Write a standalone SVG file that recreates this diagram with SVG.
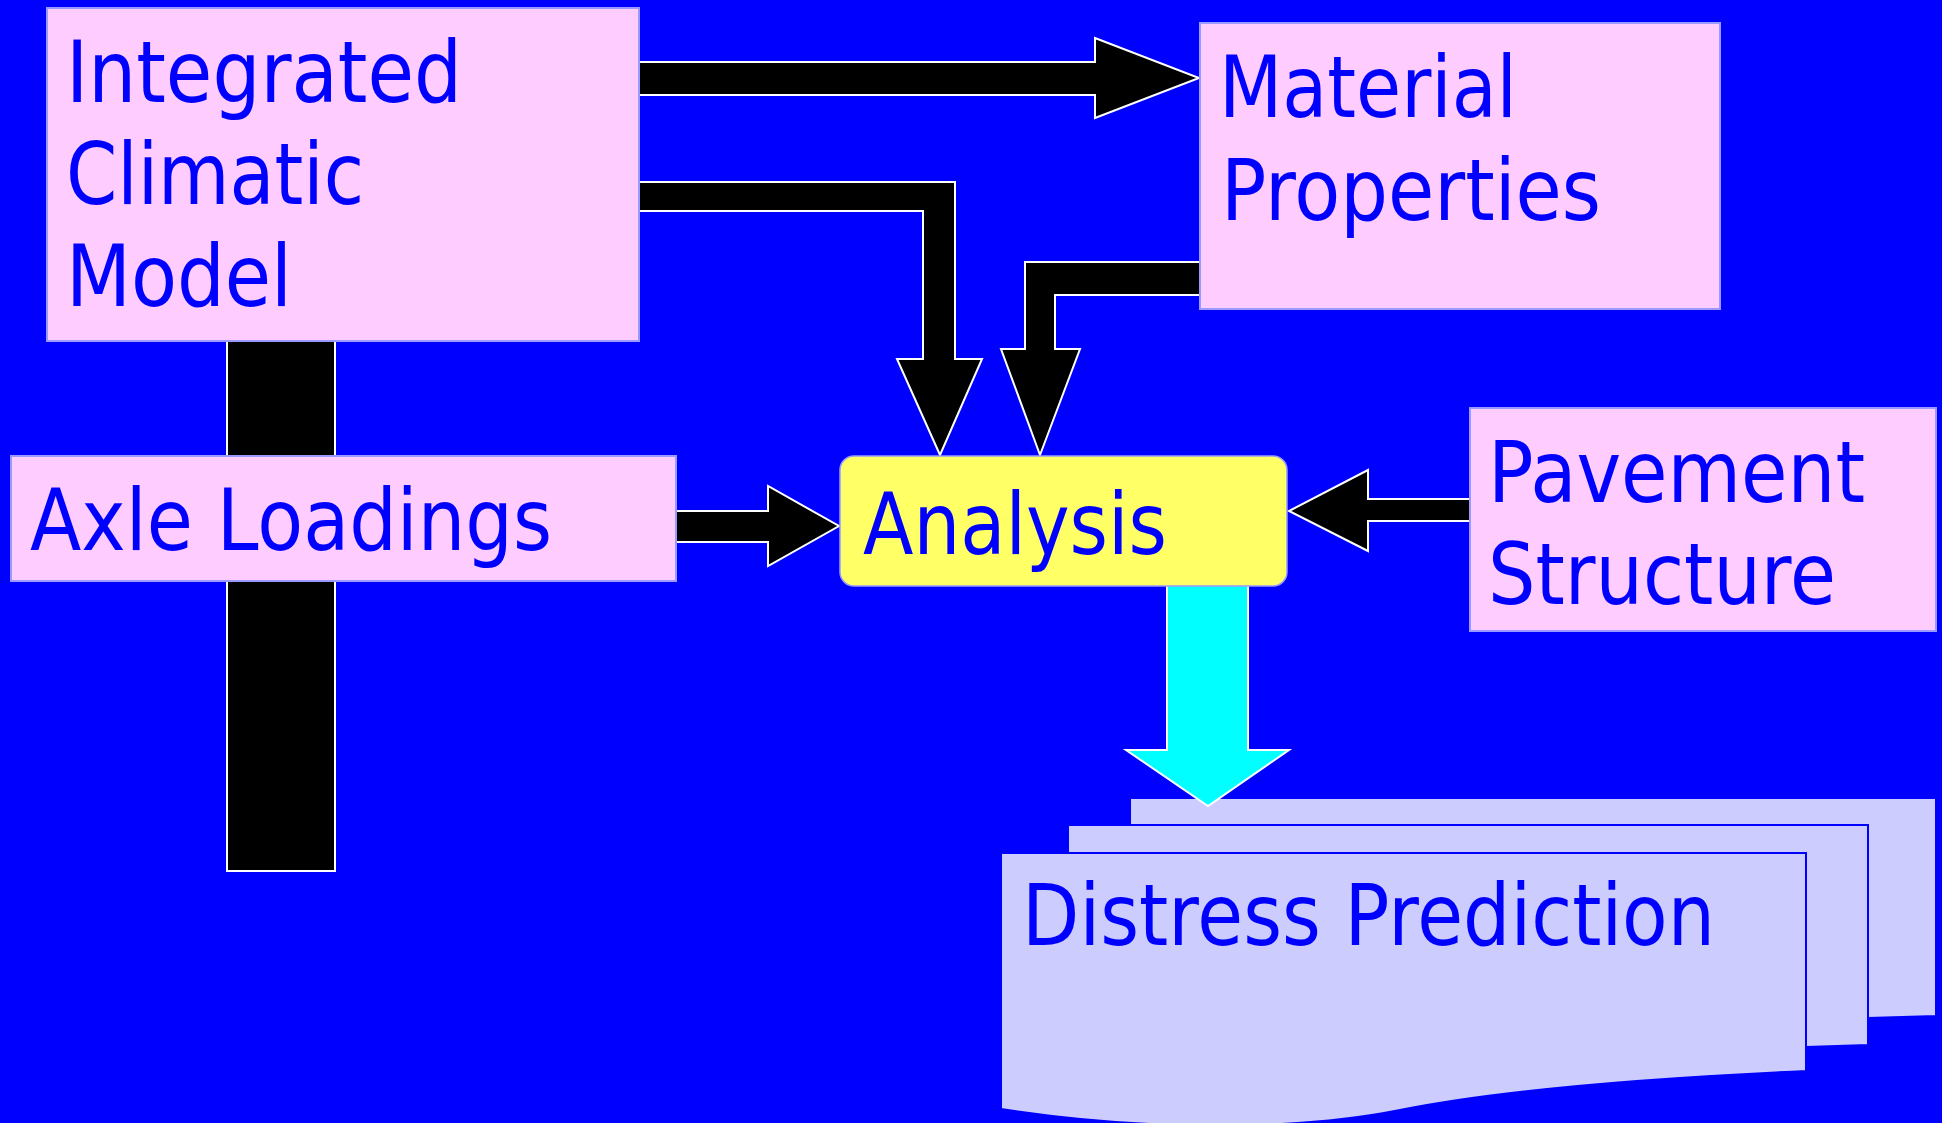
<svg xmlns="http://www.w3.org/2000/svg" width="1942" height="1123" viewBox="0 0 1942 1123">
<style>
.bg{fill:#0000FF}
.box{fill:#FFCCFF;stroke:#9999FF;stroke-width:2}
.ana{fill:#FFFF66;stroke:#9999FF;stroke-width:1.5}
.page{fill:#CCCCFF;stroke:#0000FF;stroke-width:2}
.blk{fill:#000000;stroke:#FFFFFF;stroke-width:2;stroke-linejoin:miter}
.cyan{fill:#00FFFF;stroke:#FFFFFF;stroke-width:2}
.t{font-family:"DejaVu Sans","Liberation Sans",sans-serif;font-size:85px;fill:#0000FF}
</style>
<rect class="bg" x="0" y="0" width="1942" height="1123"/>

<g id="distress-prediction">
  <path class="page" d="M1130,798 H1936 V1016 L1868,1018 L1130,1018 Z"/>
  <path class="page" d="M1068,825 H1868 V1045 L1806,1047 L1068,1047 Z"/>
  <path class="page" d="M1001,853 H1806 V1071 C1650,1078 1500,1090 1400,1110 C1300,1130 1150,1132 1001,1109 Z"/>
  <text class="t" x="1022" y="945" textLength="693" lengthAdjust="spacingAndGlyphs">Distress Prediction</text>
</g>

<g id="connectors">
  <rect class="blk" x="227" y="330" width="108" height="541"/>
  <path class="blk" d="M639,62 H1095 V38 L1199,78 L1095,118 V95 H639"/>
  <path class="blk" d="M639,182 H955 V359 H982 L940,455 L897,359 H923 V211 H639"/>
  <path class="blk" d="M1199,262 H1025 V349 H1001 L1040,455 L1080,349 H1055 V295 H1199"/>
  <path class="blk" d="M676,511 H768 V486 L839,526 L768,566 V542 H676"/>
  <path class="blk" d="M1470,499 H1368 V470 L1289,511 L1368,551 V521 H1470"/>
  <path class="cyan" d="M1167,583 H1248 V750 H1289 L1208,806 L1126,750 H1167 Z"/>
</g>

<g id="integrated-climatic-model">
  <rect class="box" x="47" y="8" width="592" height="333"/>
  <text class="t" x="66" y="102" textLength="396" lengthAdjust="spacingAndGlyphs">Integrated</text>
  <text class="t" x="66" y="204" textLength="298" lengthAdjust="spacingAndGlyphs">Climatic</text>
  <text class="t" x="66" y="306" textLength="226" lengthAdjust="spacingAndGlyphs">Model</text>
</g>

<g id="material-properties">
  <rect class="box" x="1200" y="23" width="520" height="286"/>
  <text class="t" x="1219" y="117" textLength="298" lengthAdjust="spacingAndGlyphs">Material</text>
  <text class="t" x="1221" y="220" textLength="380" lengthAdjust="spacingAndGlyphs">Properties</text>
</g>

<g id="axle-loadings">
  <rect class="box" x="11" y="456" width="665" height="125"/>
  <text class="t" x="30" y="550" textLength="522" lengthAdjust="spacingAndGlyphs">Axle Loadings</text>
</g>

<g id="analysis">
  <rect class="ana" x="840" y="456" width="447" height="130" rx="14" ry="14"/>
  <text class="t" x="863" y="554" textLength="304" lengthAdjust="spacingAndGlyphs">Analysis</text>
</g>

<g id="pavement-structure">
  <rect class="box" x="1470" y="408" width="466" height="223"/>
  <text class="t" x="1488" y="502" textLength="377" lengthAdjust="spacingAndGlyphs">Pavement</text>
  <text class="t" x="1488" y="604" textLength="348" lengthAdjust="spacingAndGlyphs">Structure</text>
</g>
</svg>
